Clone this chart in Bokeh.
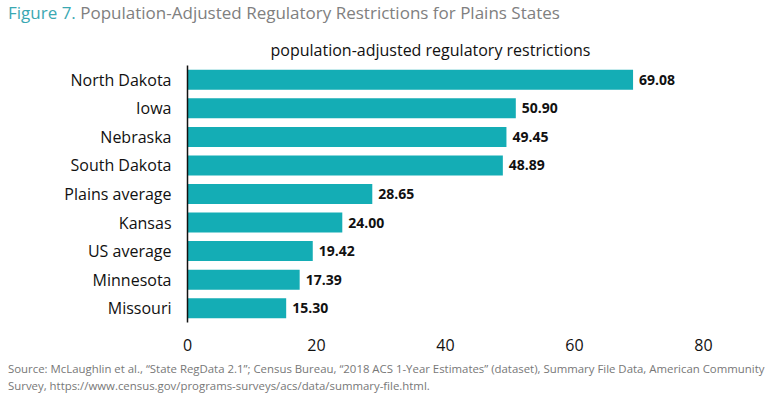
from bokeh.plotting import figure
from bokeh.models import Div, ColumnDataSource, LabelSet, FixedTicker
from bokeh.core.properties import value
from bokeh.layouts import column
from bokeh.embed import file_html
from bokeh.resources import INLINE

states = ["North Dakota", "Iowa", "Nebraska", "South Dakota", "Plains average",
          "Kansas", "US average", "Minnesota", "Missouri"]
values = [69.08, 50.90, 49.45, 48.89, 28.65, 24.00, 19.42, 17.39, 15.30]
x_ticks = [0, 20, 40, 60, 80]

FONT = "Open Sans"
TEAL = "#14adb5"

labels = [f"{v:.2f}" for v in values]
src = ColumnDataSource(dict(state=states, value=values, label=labels))

p = figure(y_range=list(reversed(states)), x_range=(0, 80),
           width=768, height=334, output_backend="svg", toolbar_location=None,
           min_border_left=187, min_border_right=65, min_border_top=39,
           min_border_bottom=38)
p.title.text = "population-adjusted regulatory restrictions"
p.title.align = "left"
p.title.text_font = FONT
p.title.text_font_size = "16px"
p.title.text_font_style = "normal"
p.title.text_color = "#111111"
p.title.offset = 83

p.hbar(y="state", right="value", height=0.7, source=src, color=TEAL, line_color=None)
p.add_layout(LabelSet(x="value", y="state", text="label", source=src,
                      x_offset=6, y_offset=0, text_baseline="middle",
                      text_font=value(FONT), text_font_size="14px",
                      text_font_style="bold", text_color="#111111"))

p.outline_line_color = None
p.xgrid.grid_line_color = None
p.ygrid.grid_line_color = None
p.background_fill_color = "white"
p.border_fill_color = "white"

p.xaxis.ticker = FixedTicker(ticks=x_ticks)
p.xaxis.axis_line_color = None
p.xaxis.major_tick_line_color = None
p.xaxis.minor_tick_line_color = None
p.xaxis.major_label_text_font = FONT
p.xaxis.major_label_text_font_size = "16px"
p.xaxis.major_label_text_color = "#111111"
p.xaxis.major_label_standoff = 10

p.yaxis.axis_line_color = "#111111"
p.yaxis.axis_line_width = 1.5
p.yaxis.major_tick_line_color = None
p.yaxis.minor_tick_line_color = None
p.yaxis.major_label_text_font = FONT
p.yaxis.major_label_text_font_size = "16px"
p.yaxis.major_label_text_color = "#111111"
p.yaxis.major_label_standoff = 10

title = Div(text=f'<span style="color:#3aa8b2">Figure 7.</span> '
                 f'<span style="color:#808080">Population-Adjusted Regulatory Restrictions for Plains States</span>',
            width=768, height=26, margin=(0, 0, 0, 0),
            styles={"font-family": FONT, "font-size": "17px", "line-height": "26px",
                    "white-space": "nowrap", "padding-left": "8px"})
source = Div(text='Source: McLaughlin et al., “State RegData 2.1”; Census Bureau, “2018 ACS 1-Year Estimates” '
                  '(dataset), Summary File Data, American Community<br>Survey, '
                  'https://www.census.gov/programs-surveys/acs/data/summary-file.html.',
             width=768, height=36, margin=(0, 0, 0, 0),
             styles={"font-family": FONT, "font-size": "11.4px", "line-height": "17px",
                     "color": "#777777", "white-space": "nowrap", "padding-left": "8px"})

layout = column(title, p, source, spacing=0)
open("out.html", "w").write(file_html(layout, INLINE))
